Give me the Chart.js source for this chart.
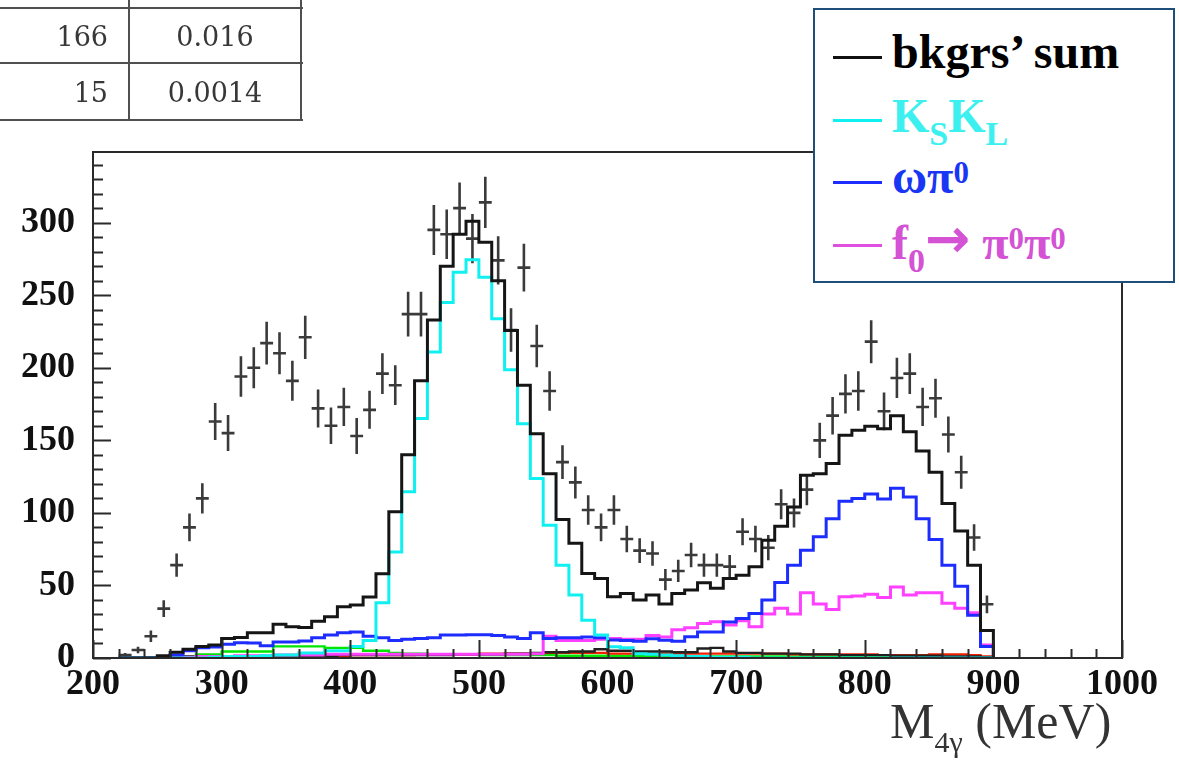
<!DOCTYPE html>
<html><head><meta charset="utf-8">
<script src="https://cdn.jsdelivr.net/npm/chart.js@4.4.1/dist/chart.umd.min.js"></script>
<style>
html,body{margin:0;padding:0;background:#fff;}
#wrap{position:relative;width:1179px;height:760px;overflow:hidden;background:#fff;}
#cv{position:absolute;left:0;top:0;}
.hl{position:absolute;height:2px;background:#505050;}
.vl{position:absolute;width:2px;background:#505050;}
.tnum{position:absolute;font-family:'DejaVu Serif',serif;font-size:27px;color:#383838;line-height:30px;white-space:nowrap;}
#legend{position:absolute;left:813px;top:8px;width:358px;height:271px;border:2px solid #1f4e7a;background:#fff;z-index:5;}
.lsamp{position:absolute;left:18px;width:49px;height:2.5px;}
.ltxt{position:absolute;left:77px;font-family:'Liberation Serif','Times New Roman',serif;font-weight:bold;font-size:48px;line-height:48px;white-space:nowrap;}
.sub{font-size:34px;position:relative;top:13px;}
.sup{font-size:31px;position:relative;top:-10px;}
.arr{font-family:'DejaVu Sans',sans-serif;font-weight:bold;font-size:54px;position:relative;top:-2px;}
#xtitle{position:absolute;left:890px;top:696px;font-family:'Liberation Serif','Times New Roman',serif;font-size:50px;line-height:50px;color:#333;white-space:nowrap;z-index:5;}
#xtitle .s{font-size:30px;position:relative;top:14px;}
</style>
</head><body>
<div id="wrap">
  <canvas id="cv" width="1179" height="760"></canvas>

  <!-- partial table at top-left -->
  <div class="hl" style="left:0;top:7px;width:303px;"></div>
  <div class="hl" style="left:0;top:62px;width:303px;"></div>
  <div class="hl" style="left:0;top:119px;width:303px;"></div>
  <div class="vl" style="left:128px;top:0;height:121px;"></div>
  <div class="vl" style="left:300px;top:0;height:121px;"></div>
  <div class="tnum" style="left:0;width:108px;text-align:right;top:22px;">166</div>
  <div class="tnum" style="left:130px;width:170px;text-align:center;top:22px;">0.016</div>
  <div class="tnum" style="left:0;width:108px;text-align:right;top:78px;">15</div>
  <div class="tnum" style="left:130px;width:170px;text-align:center;top:78px;">0.0014</div>

  <div id="legend">
    <div class="lsamp" style="top:46px;background:#111;"></div>
    <div class="ltxt" style="top:18px;color:#000;">bkgrs’ sum</div>
    <div class="lsamp" style="top:109px;background:#10f0f0;"></div>
    <div class="ltxt" style="top:82px;color:#3cf0f0;">K<span class="sub">S</span>K<span class="sub">L</span></div>
    <div class="lsamp" style="top:171px;background:#1e2dff;"></div>
    <div class="ltxt" style="top:143px;color:#1a36f5;">ωπ<span class="sup">0</span></div>
    <div class="lsamp" style="top:234px;background:#e050e0;"></div>
    <div class="ltxt" style="top:207px;color:#d452d4;">f<span class="sub">0</span><span class="arr">→</span> π<span class="sup">0</span>π<span class="sup">0</span></div>
  </div>

  <div id="xtitle">M<span class="s">4γ</span> (MeV)</div>
</div>

<script>
// ---- Data ----
const binWidth = 10;
const binEdges = [220,230,240,250,260,270,280,290,300,310,320,330,340,350,360,370,380,390,400,410,
  420,430,440,450,460,470,480,490,500,510,520,530,540,550,560,570,580,590,600,610,
  620,630,640,650,660,670,680,690,700,710,720,730,740,750,760,770,780,790,800,810,
  820,830,840,850,860,870,880,890];

const bkgSum = [0,0,0,1.5,4,6,8,9,13.5,14.2,17.4,17.4,23.3,21.5,21,25.4,28.4,35.3,36.5,42,
  58,100.7,140,191,233,270,292,301,286.5,260,225.7,188,154.6,127,95.4,79,58.3,54.8,42.2,44.5,
  40,43.4,37.2,44.5,46.8,51.8,48,54.8,57,62.8,81.2,90.8,104,126,127,134,153.5,157,159.7,158,
  167,156,142.7,128,106.5,87.6,64,19];

const ksKl = [0,0,0,0,0,0,0,0.5,1,1,1,1.5,2,2,3.5,3.5,5,5,8,12,
  38,73,114.5,165,210.8,245,265.9,274.4,262.4,233.8,198.7,161.5,123.7,91.5,64,43.4,26,15.8,7.8,7,
  3,2.5,2,1.5,1,1,0.5,0.5,0.5,0,0,0,0,0,0,0,0,0,0,0,
  0,0,0,0,0,0,0,0];

const omegaPi0 = [0,0,0,0.5,2,5,7,7.5,9.5,10.5,10.3,8.5,11,11,11.7,14,15.8,17.4,18,15,
  14,12,13,13.5,14,15.8,15.8,16,16,15.5,14.5,13.5,17.4,13.5,14,14,14.5,14,12.4,12,
  11.6,13.3,12.2,11.6,14.7,17.9,17.9,24.8,27.3,30.7,40,52,64,74.3,83.5,96,108,110,113,109.5,
  117,111,96,81.7,64,49.5,29.5,8];

const f0Pi0Pi0 = [0,0,0,0,0,0.5,1,1,1,1.5,1.5,1.5,2,2,2,2,2.5,2.5,2.5,2.5,
  2.5,2.5,2.5,2.5,2.5,2.5,2.5,2.5,2.5,2.5,2.5,2.5,3,15,12,12,12,13,13.5,13,
  13,15.5,14.5,19.5,20.8,23.8,25,22.7,25.7,21.6,30.3,34.2,30.3,45,37.2,33.5,42.2,42.7,44,41.7,
  49,43.4,45,45,37.7,34.2,31.2,9];

const otherGreen = [0,0,0,0,0,1,2.5,2.5,4.5,4.5,4.5,4.5,8,8,8,8,7,7,7,5,
  5,3.5,3,3,2.5,2.5,2.5,2.5,2,2,2,2,2,2,1.5,1.5,1.5,1.5,1.5,1.5,
  1.5,1.5,1.5,1,1,1,1,1,1,1,1,1,1,1,1,1,1,1,1,1,
  0.5,0.5,0.5,0.5,0.5,0.5,0.5,0];

const otherRed = [0,0,0,0,0,0,0.5,0.5,0.5,1,1,1,1,1,1.5,1.5,1.5,1.5,2,2,
  2,2,2,2.5,2.5,2.5,2.5,2.5,3,3,3,3,3,3.5,3.5,3.5,3.5,3.5,3,3,
  3,3,3,3,3,3,3,3,3,3,3,3,2.5,2.5,2.5,2.5,2.5,2.5,2.5,2,
  2,2,2,2.5,2.5,2.5,2,1];

const otherBlack = [0,0,0.5,1,1,1,1,1,1,1,1,1,1.5,1.5,1.5,1.5,1.5,2,2,2,
  2,2,2,2,2,2,2.5,2.5,2.5,2.5,3,3,3.5,4,4,4.5,4.5,6,5,5,
  4.5,4.5,4.5,4,4,6.5,7,4.5,3.5,3.5,3,3,3,2.5,2.5,2.5,2,2,2,2,
  1.5,1.5,1.5,1.5,1,1,1,0.5];

const dataCenters = [225,235,245,255,265,275,285,295,305,315,325,335,345,355,365,375,385,395,405,415,
  425,435,445,455,465,475,485,495,505,515,525,535,545,555,565,575,585,595,605,615,
  625,635,645,655,665,675,685,695,705,715,725,735,745,755,765,775,785,795,805,815,
  825,835,845,855,865,875,885,895];
const dataCounts = [2,5.5,15,34,64,90,110,163,155,194,200,217,210,191,221,172,160,173,153,171,
  196,188,237,237,295,292,310,289,314,274,226,269,215,184,135,121,102,90,102,82,
  74,72,54,60,71,64,64,63,87,82,76,106,100,116,150,167,182,184,218,170,
  193,196,173,179,154,128,83,37];
const dataErrors = [1.4,2.3,3.9,5.8,8,9.5,10.5,12.8,12.4,13.9,14.1,14.7,14.5,13.8,14.9,13.1,12.6,13.2,12.4,13.1,
  14,13.7,15.4,15.4,17.2,17.1,17.6,17,17.7,16.6,15,16.4,14.7,13.6,11.6,11,10.1,9.5,10.1,9.1,
  8.6,8.5,7.3,7.7,8.4,8,8,7.9,9.3,9.1,8.7,10.3,10,10.8,12.2,12.9,13.5,13.6,14.8,13,
  13.9,14,13.2,13.4,12.4,11.3,9.1,6.1];

const xTickValues = [200,300,400,500,600,700,800,900,1000];
const yTickValues = [0,50,100,150,200,250,300];

// ---- Build library data ----
function histPoints(values){
  const pts = binEdges.map((e,i)=>({x:e, y:values[i]}));
  pts.push({x: binEdges[binEdges.length-1] + binWidth, y: 0});
  return pts;
}
function crossPoints(){
  const pts = [];
  dataCenters.forEach((c,i)=>{
    const v = dataCounts[i], e = dataErrors[i], h = binWidth/2;
    pts.push({x:c-h,y:v},{x:c+h,y:v},{x:c+h,y:null});
    pts.push({x:c,y:v-e},{x:c,y:v+e},{x:c,y:null});
  });
  return pts;
}
function histDS(label, values, color, order, width){
  return {label, data: histPoints(values), borderColor: color, borderWidth: width||3,
    stepped:'before', pointRadius:0, fill:false, order, borderJoinStyle:'miter', tension:0};
}

const rootAxes = {
  id:'rootAxes',
  afterDatasetsDraw(chart){
    const {ctx, chartArea:a, scales:{x,y}} = chart;
    ctx.save();
    ctx.strokeStyle='#2a2a2a'; ctx.lineWidth=2;
    ctx.beginPath();
    for(let v=0; v<=y.max; v+=10){
      const p = Math.round(y.getPixelForValue(v))+0.5;
      const L = (v%50===0)?18:10;
      ctx.moveTo(a.left,p); ctx.lineTo(a.left+L,p);
    }
    for(let v=x.min; v<=x.max; v+=20){
      const p = Math.round(x.getPixelForValue(v))+0.5;
      const L = (v%100===0)?18:9;
      ctx.moveTo(p,a.bottom); ctx.lineTo(p,a.bottom-L);
    }
    ctx.stroke();
    ctx.strokeRect(a.left, a.top, a.right-a.left, a.bottom-a.top);
    ctx.restore();
  }
};

const tickFont = {family:"'Liberation Serif','Times New Roman',serif", size:36, weight:'bold'};

new Chart(document.getElementById('cv'), {
  type:'line',
  data:{ datasets:[
    histDS('bkgrs’ sum', bkgSum, '#151515', 0),
    histDS('KSKL', ksKl, '#10f0f0', 1),
    histDS('ωπ0', omegaPi0, '#1e2dff', 2),
    histDS('f0→π0π0', f0Pi0Pi0, '#ff40ff', 3),
    histDS('other (black)', otherBlack, '#202020', 4, 2.4),
    histDS('other (red)', otherRed, '#f02000', 5, 2.4),
    histDS('other (green)', otherGreen, '#00e600', 6, 2.4),
    {label:'data', data: crossPoints(), borderColor:'#3a3a3a', borderWidth:2.6, pointRadius:0,
     showLine:true, spanGaps:false, fill:false, order:10}
  ]},
  options:{
    responsive:false, animation:false, events:[],
    layout:{padding:{left:0, top:152, right:57, bottom:0}},
    plugins:{legend:{display:false}, tooltip:{enabled:false}, title:{display:false}},
    scales:{
      x:{type:'linear', min:200, max:1000,
         grid:{display:false, drawTicks:false}, border:{display:false},
         afterBuildTicks(s){ s.ticks = xTickValues.map(v=>({value:v})); },
         afterFit(s){ s.height = 102; },
         ticks:{font:tickFont, color:'#111', padding:5, maxRotation:0, autoSkip:false,
                callback:(v)=>String(v)}},
      y:{type:'linear', min:0, max:348.7,
         grid:{display:false, drawTicks:false}, border:{display:false},
         afterBuildTicks(s){ s.ticks = yTickValues.map(v=>({value:v})); },
         afterFit(s){ s.width = 93; },
         ticks:{font:tickFont, color:'#111', padding:18, autoSkip:false,
                callback:(v)=>String(v)}}
    }
  },
  plugins:[rootAxes]
});
</script>
</body></html>
